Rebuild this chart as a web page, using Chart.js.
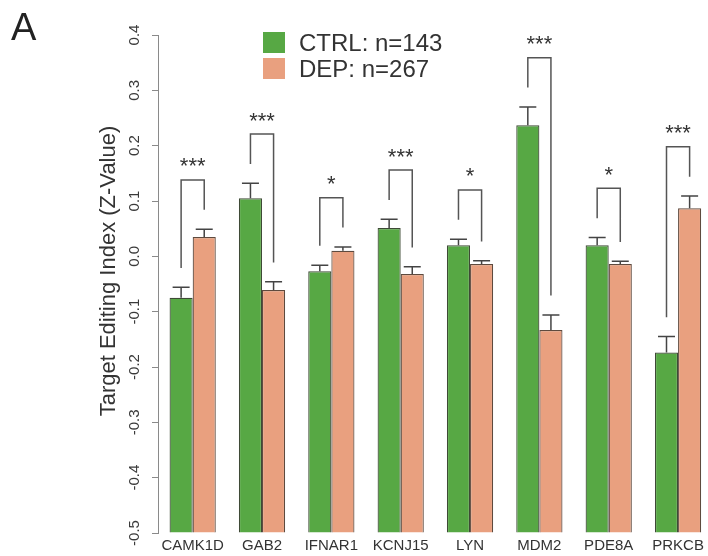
<!DOCTYPE html>
<html>
<head>
<meta charset="utf-8">
<script src="https://cdn.jsdelivr.net/npm/chart.js@4/dist/chart.umd.min.js"></script>
<style>
  html, body { margin: 0; padding: 0; background: #ffffff; }
  #wrap { width: 708px; height: 556px; position: relative; }
</style>
</head>
<body>
<div id="wrap"><canvas id="chart" width="708" height="556"></canvas></div>
<script>
// Target editing index per gene, control vs depressed group
const genes = ['CAMK1D', 'GAB2', 'IFNAR1', 'KCNJ15', 'LYN', 'MDM2', 'PDE8A', 'PRKCB'];
const ctrlValues = [-0.075, 0.105, -0.027, 0.051, 0.020, 0.237, 0.020, -0.174];
const ctrlErrors = [0.019, 0.027, 0.011, 0.016, 0.011, 0.033, 0.014, 0.029];
const depValues = [0.035, -0.061, 0.010, -0.032, -0.014, -0.133, -0.014, 0.087];
const depErrors = [0.014, 0.015, 0.007, 0.013, 0.006, 0.027, 0.005, 0.022];
const significance = ['***', '***', '*', '***', '*', '***', '*', '***'];
const yTicks = [-0.5, -0.4, -0.3, -0.2, -0.1, 0.0, 0.1, 0.2, 0.3, 0.4];
const seriesLabels = ['CTRL: n=143', 'DEP: n=267'];

const Y_MIN = -0.5, Y_MAX = 0.4;
const GREEN = '#57a844';
const SALMON = '#e9a07f';
const FONT = '"Liberation Sans", Arial, Helvetica, sans-serif';

const ctrlPoints = ctrlValues.map((v, i) => ({ x: i, y: v }));
const depPoints = depValues.map((v, i) => ({ x: i, y: v }));

// error bars, significance brackets, legend, axis title and panel letter
const annotate = {
  id: 'annotate',
  afterDatasetsDraw(chart) {
    const ctx = chart.ctx;
    const ys = chart.scales.y;
    const m0 = chart.getDatasetMeta(0).data;
    const m1 = chart.getDatasetMeta(1).data;
    const errs = [ctrlErrors, depErrors];
    const vals = [ctrlValues, depValues];

    ctx.save();
    // error bars (upper half only)
    ctx.strokeStyle = '#444444';
    ctx.lineWidth = 1.5;
    [m0, m1].forEach((bars, d) => {
      bars.forEach((bar, i) => {
        const yTop = ys.getPixelForValue(vals[d][i] + errs[d][i]);
        const yBase = ys.getPixelForValue(vals[d][i]);
        ctx.beginPath();
        ctx.moveTo(bar.x, yBase);
        ctx.lineTo(bar.x, yTop);
        ctx.moveTo(bar.x - 8.5, yTop);
        ctx.lineTo(bar.x + 8.5, yTop);
        ctx.stroke();
      });
    });

    // significance brackets
    ctx.strokeStyle = '#555555';
    ctx.lineWidth = 1.5;
    ctx.fillStyle = '#333333';
    ctx.font = '22px ' + FONT;
    ctx.textAlign = 'center';
    ctx.textBaseline = 'alphabetic';
    genes.forEach((g, i) => {
      const leftEnd = ctrlValues[i] + ctrlErrors[i] + 0.035;
      const rightEnd = depValues[i] + depErrors[i] + 0.035;
      const top = Math.max(leftEnd, rightEnd) + 0.054;
      const xl = m0[i].x, xr = m1[i].x;
      const yt = ys.getPixelForValue(top);
      ctx.beginPath();
      ctx.moveTo(xl, ys.getPixelForValue(leftEnd));
      ctx.lineTo(xl, yt);
      ctx.lineTo(xr, yt);
      ctx.lineTo(xr, ys.getPixelForValue(rightEnd));
      ctx.stroke();
      ctx.fillText(significance[i], (xl + xr) / 2, yt - 19 + 12.5);
    });

    // legend
    const colors = [GREEN, SALMON];
    const rows = [42, 68];
    ctx.textAlign = 'left';
    ctx.font = '24px ' + FONT;
    seriesLabels.forEach((lab, k) => {
      ctx.fillStyle = colors[k];
      ctx.fillRect(263, rows[k] - 10, 22, 21);
      ctx.fillStyle = '#333333';
      ctx.fillText(lab, 299, rows[k] + 8.5);
    });

    // y axis title
    ctx.save();
    ctx.translate(115, 271);
    ctx.rotate(-Math.PI / 2);
    ctx.font = '22px ' + FONT;
    ctx.fillStyle = '#333333';
    ctx.textAlign = 'center';
    ctx.fillText('Target Editing Index (Z-Value)', 0, 0);
    ctx.restore();

    // panel letter
    ctx.font = '38px ' + FONT;
    ctx.fillStyle = '#222222';
    ctx.textAlign = 'left';
    ctx.fillText('A', 11, 40);
    ctx.restore();
  }
};

new Chart(document.getElementById('chart'), {
  type: 'bar',
  data: {
    datasets: [
      { label: seriesLabels[0], data: ctrlPoints, backgroundColor: GREEN, borderColor: '#3e4a36', borderWidth: 1.2, base: Y_MIN },
      { label: seriesLabels[1], data: depPoints, backgroundColor: SALMON, borderColor: '#5e4a3e', borderWidth: 1.2, base: Y_MIN }
    ]
  },
  options: {
    responsive: false,
    animation: false,
    devicePixelRatio: 1,
    categoryPercentage: 2 / 3,
    barPercentage: 1.0,
    layout: { padding: { top: 35, right: 2, left: 0, bottom: 0 } },
    plugins: { legend: { display: false }, tooltip: { enabled: false } },
    scales: {
      x: {
        type: 'linear',
        offset: false,
        min: -0.5,
        max: 7.4,
        grid: { display: false, drawTicks: false },
        border: { display: false },
        afterBuildTicks: s => { s.ticks = genes.map((g, i) => ({ value: i })); },
        afterFit: s => { s.height = 23; },
        ticks: {
          autoSkip: false,
          maxRotation: 0,
          minRotation: 0,
          padding: 4,
          color: '#333333',
          font: { family: FONT, size: 15 },
          callback: (v) => genes[Math.round(v)] || ''
        }
      },
      y: {
        min: Y_MIN,
        max: Y_MAX,
        afterBuildTicks: s => { s.ticks = yTicks.map(v => ({ value: v })); },
        afterFit: s => { s.width = 158; },
        grid: { drawOnChartArea: false, drawTicks: true, tickLength: 6, color: '#8a8a8a', lineWidth: 1 },
        border: { display: true, color: '#8a8a8a', width: 1 },
        ticks: {
          minRotation: 90,
          maxRotation: 90,
          crossAlign: 'center',
          padding: 4,
          color: '#3a3a3a',
          font: { family: FONT, size: 15 },
          callback: (v) => (Math.abs(v) < 1e-9 ? 0 : v).toFixed(1)
        }
      }
    }
  },
  plugins: [annotate]
});
</script>
</body>
</html>
